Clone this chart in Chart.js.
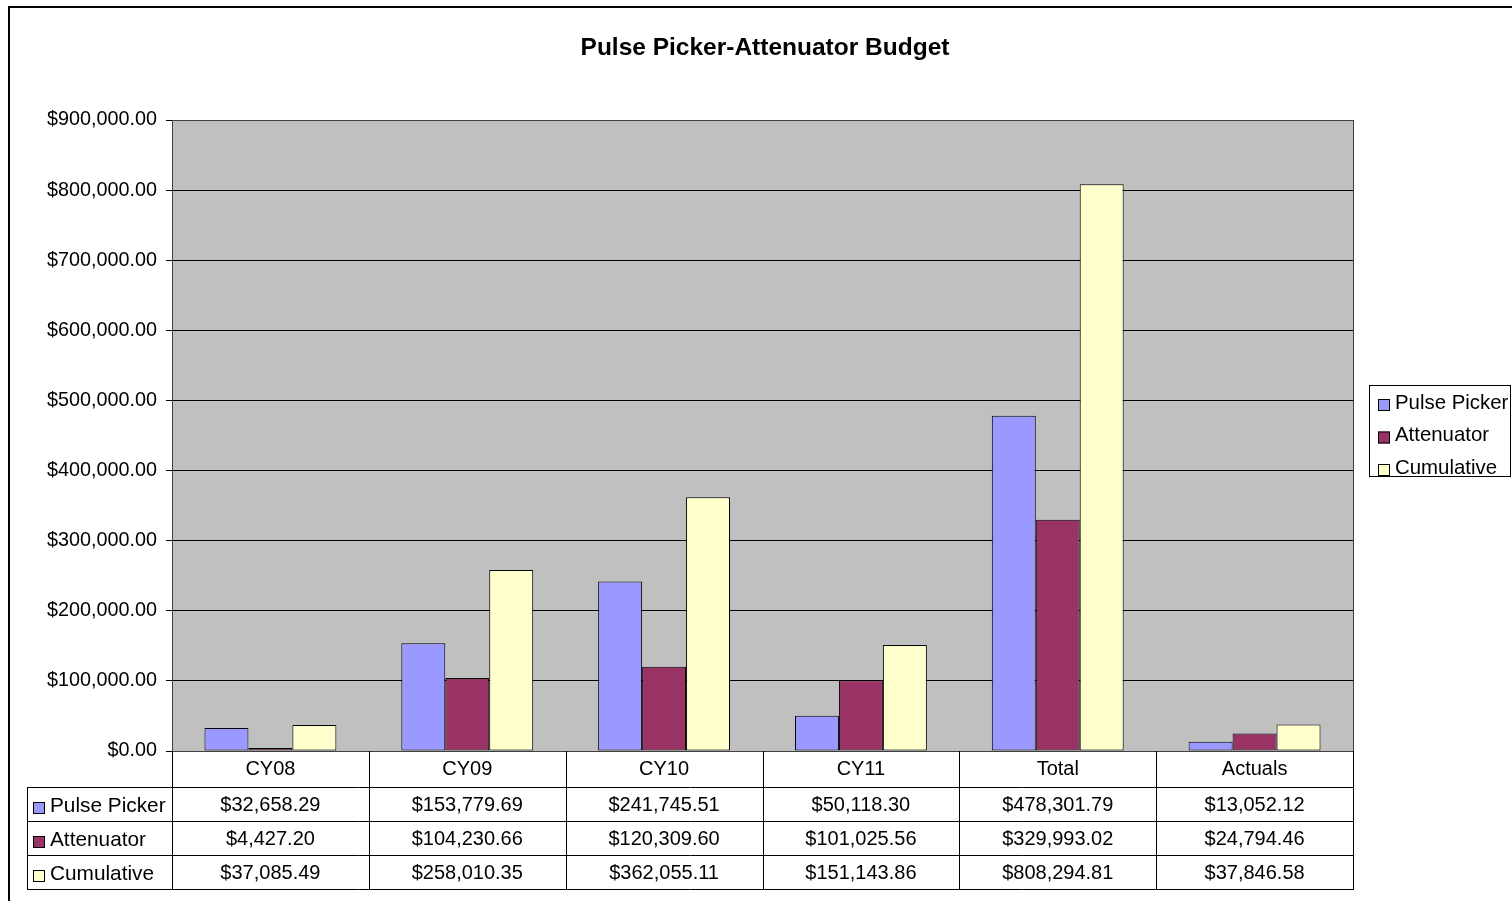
<!DOCTYPE html>
<html>
<head>
<meta charset="utf-8">
<title>Pulse Picker-Attenuator Budget</title>
<script src="https://cdn.jsdelivr.net/npm/chart.js@4/dist/chart.umd.min.js"></script>
<style>
  body { margin: 0; background: #fff; }
  #wrap { width: 1512px; height: 901px; }
</style>
</head>
<body>
<div id="wrap"><canvas id="charts" width="1512" height="901"></canvas></div>
<script>
// budget figures per period
const categories = ['CY08', 'CY09', 'CY10', 'CY11', 'Total', 'Actuals']
const pulsePicker = [32658.29, 153779.69, 241745.51, 50118.30, 478301.79, 13052.12]
const attenuator = [4427.20, 104230.66, 120309.60, 101025.56, 329993.02, 24794.46]
const cumulative = [37085.49, 258010.35, 362055.11, 151143.86, 808294.81, 37846.58]
const seriesNames = ['Pulse Picker', 'Attenuator', 'Cumulative']
const seriesColors = ['#9999FF', '#993366', '#FFFFCC']
const chartTitle = 'Pulse Picker-Attenuator Budget'

const FONT = '"Liberation Sans", Arial, sans-serif'

function money(v)
{
    return '$' + v.toLocaleString('en-US', {minimumFractionDigits: 2, maximumFractionDigits: 2})
}

// grey plot background, frame, title, legend box and the data table underneath
const excelBits = {
    id: 'excelBits',
    beforeDraw(chart) {
        const ctx = chart.ctx
        const a = chart.chartArea
        ctx.save()
        ctx.fillStyle = '#fff'
        ctx.fillRect(0, 0, chart.width, chart.height)
        ctx.fillStyle = '#C0C0C0'
        ctx.fillRect(a.left, a.top, a.right - a.left, a.bottom - a.top)
        ctx.restore()
    },
    afterDraw(chart) {
        const ctx = chart.ctx
        const a = chart.chartArea
        const sets = chart.data.datasets
        ctx.save()

        // outer chart border
        ctx.strokeStyle = '#000'
        ctx.lineWidth = 2
        ctx.strokeRect(9, 7, 1600, 1000)

        // plot frame
        ctx.lineWidth = 1
        ctx.strokeStyle = '#404040'
        ctx.strokeRect(a.left + 0.5, a.top + 0.5, a.right - a.left, a.bottom - a.top)

        // title
        ctx.fillStyle = '#000'
        ctx.font = 'bold 24.5px ' + FONT
        ctx.textAlign = 'center'
        ctx.textBaseline = 'middle'
        ctx.fillText(chartTitle, 765, 48)

        // legend
        ctx.strokeStyle = '#000'
        ctx.strokeRect(1369.5, 385.5, 141, 91)
        ctx.font = '20.4px ' + FONT
        ctx.textAlign = 'left'
        sets.forEach((ds, i) => {
            const y = 403 + i * 32.5
            ctx.fillStyle = ds.backgroundColor
            ctx.fillRect(1378, y - 4, 12, 12)
            ctx.strokeRect(1378.5, y - 3.5, 11, 11)
            ctx.fillStyle = '#000'
            ctx.fillText(ds.label, 1395, y)
        })

        // data table
        const n = categories.length
        const colW = (a.right - a.left) / n
        const rowTop = a.bottom
        const headH = 36
        const rowH = 34
        const tableLeft = 27
        const lastY = rowTop + headH + rowH * sets.length

        ctx.strokeStyle = '#000'
        ctx.lineWidth = 1
        ctx.beginPath()
        for (let i = 0; i <= n; i++) {
            const x = Math.round(a.left + i * colW) + 0.5
            ctx.moveTo(x, rowTop)
            ctx.lineTo(x, lastY)
        }
        ctx.moveTo(tableLeft + 0.5, rowTop + headH)
        ctx.lineTo(tableLeft + 0.5, lastY)
        for (let r = 0; r <= sets.length; r++) {
            const y = rowTop + headH + r * rowH + 0.5
            ctx.moveTo(tableLeft, y)
            ctx.lineTo(a.right + 1, y)
        }
        ctx.stroke()

        ctx.font = '20px ' + FONT
        ctx.fillStyle = '#000'
        ctx.textAlign = 'center'
        categories.forEach((c, i) => {
            ctx.fillText(c, chart.scales.x.getPixelForValue(i), rowTop + headH / 2)
        })
        sets.forEach((ds, r) => {
            const y = rowTop + headH + r * rowH + rowH / 2 + 1
            ctx.font = '20px ' + FONT
            ctx.textAlign = 'center'
            ctx.fillStyle = '#000'
            ds.data.forEach((v, i) => {
                ctx.fillText(money(v), chart.scales.x.getPixelForValue(i), y)
            })
            ctx.fillStyle = ds.backgroundColor
            ctx.fillRect(33, y - 3, 12, 12)
            ctx.strokeRect(33.5, y - 2.5, 11, 11)
            ctx.fillStyle = '#000'
            ctx.textAlign = 'left'
            ctx.font = '20.8px ' + FONT
            ctx.fillText(ds.label, 50, y + 1)
        })
        ctx.restore()
    }
}

const ctx = document.getElementById('charts').getContext('2d')

const chart = new Chart(ctx, {
    type: 'bar',
    data: {
        labels: categories,
        datasets: [pulsePicker, attenuator, cumulative].map((d, i) => ({
            label: seriesNames[i],
            data: d,
            backgroundColor: seriesColors[i],
            borderColor: '#000',
            borderWidth: 1,
            borderSkipped: false,
            categoryPercentage: 0.67,
            barPercentage: 1
        }))
    },
    options: {
        responsive: false,
        animation: false,
        devicePixelRatio: 1,
        layout: {
            padding: {left: 0, top: 120, right: 159, bottom: 150}
        },
        plugins: {
            legend: {display: false},
            title: {display: false},
            tooltip: {enabled: false}
        },
        scales: {
            x: {
                display: false
            },
            y: {
                min: 0,
                max: 900000,
                afterFit(scale) { scale.width = 172 },
                ticks: {
                    stepSize: 100000,
                    padding: 9,
                    color: '#000',
                    font: {family: FONT, size: 19.8},
                    callback: v => money(v)
                },
                grid: {
                    color: '#000',
                    lineWidth: 1,
                    tickLength: 6
                },
                border: {display: true, color: '#000'}
            }
        }
    },
    plugins: [excelBits]
})
</script>
</body>
</html>
